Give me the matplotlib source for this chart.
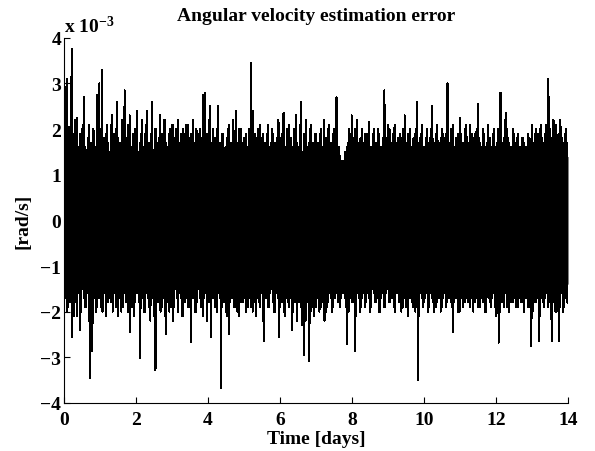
import numpy as np
import matplotlib
matplotlib.use("Agg")
import matplotlib.pyplot as plt

# Angular velocity estimation error, values in units of 1e-3 rad/s
# upper / lower excursions (spikes) of the signal (left to right)
upper = [
    1.5, 3.1, 2.05, 3.75, 1.9, 2.25, 1.6, 2.0, 2.7, 1.55,
    2.1, 1.7, 1.95, 2.75, 3.0, 3.3, 1.8, 2.1, 1.5, 2.3,
    1.9, 2.6, 1.7, 2.2, 2.85, 1.8, 2.3, 1.6, 2.0, 2.4,
    1.7, 2.2, 1.9, 2.4, 1.6, 2.6, 2.0, 1.7, 2.3, 1.9,
    2.2, 1.6, 2.0, 2.1, 1.8, 2.2, 1.7, 2.0, 1.9, 2.1,
    1.8, 2.2, 1.6, 1.9, 2.0, 2.75, 2.8, 1.7, 2.5, 2.0,
    1.8, 2.5, 1.7, 1.9, 1.6, 2.0, 1.7, 2.2, 2.4, 1.6,
    2.0, 1.7, 1.9, 1.6, 3.45, 2.4, 1.8, 2.0, 1.6, 1.9,
    1.5, 2.1, 1.7, 1.9, 1.5, 2.2, 1.8, 2.35, 1.6, 2.1,
    1.8, 2.0, 2.3, 1.6, 2.6, 1.9, 2.2, 1.7, 2.1, 1.5,
    1.9, 1.6, 2.0, 2.2, 1.8, 2.1, 1.7, 2.0, 2.7, 1.6,
    1.3, 1.2, 1.6, 2.0, 2.3, 1.8, 2.2, 1.6, 2.0, 1.7,
    1.9, 2.15, 1.6, 2.0, 1.7, 1.9, 1.6, 2.85, 1.8, 2.0,
    1.7, 2.1, 1.6, 1.9, 1.8, 2.3, 1.7, 2.0, 1.6, 1.9,
    2.6, 1.8, 2.1, 1.6, 2.0, 1.8, 2.5, 1.7, 2.1, 1.6,
    2.0, 1.8, 3.0, 1.7, 2.1, 1.6, 1.9, 2.25, 1.7, 2.0,
    1.6, 2.1, 1.8, 1.9, 2.55, 1.7, 2.0, 1.6, 2.1, 1.8,
    1.9, 1.6, 2.0, 2.8, 1.7, 2.35, 1.8, 1.6, 2.0, 1.7,
    1.9, 1.6, 1.8, 1.5, 1.9, 1.7, 1.6, 2.0, 1.9, 2.1,
    1.7, 2.1, 3.1, 1.8, 2.2, 2.1, 1.9, 2.05, 1.7, 2.0,
]
lower = [
    -1.6, -2.0, -1.8, -2.55, -1.7, -2.1, -2.4, -1.5, -1.9, -1.6,
    -3.46, -2.86, -1.7, -1.9, -1.5, -2.0, -1.6, -1.8, -1.5, -2.0,
    -1.6, -2.1, -1.7, -1.9, -1.5, -2.0, -2.45, -1.6, -1.8, -1.4,
    -3.02, -1.6, -2.0, -1.7, -2.2, -1.6, -3.28, -1.8, -2.0, -1.7,
    -2.5, -1.6, -1.9, -2.2, -1.5, -2.0, -1.7, -2.1, -1.6, -1.9,
    -2.66, -1.7, -2.0, -1.5, -1.9, -2.1, -1.6, -1.8, -2.55, -1.7,
    -1.9, -1.6, -3.68, -1.8, -2.0, -2.5, -1.7, -1.9, -1.6, -2.1,
    -1.8, -1.5, -2.0, -1.7, -1.9, -1.6, -2.1, -1.8, -1.6, -2.65,
    -1.7, -1.9, -1.5, -2.0, -1.6, -2.55, -1.8, -2.0, -1.7, -1.9,
    -2.4, -1.6, -2.2, -1.8, -2.3, -2.95, -1.7, -3.09, -1.9, -2.1,
    -1.6, -2.0, -1.8, -2.2, -1.9, -1.6, -2.0, -1.7, -1.5, -1.9,
    -1.4, -1.7, -2.7, -1.5, -1.8, -2.86, -1.6, -2.0, -1.7, -1.9,
    -1.6, -2.0, -1.5, -1.8, -1.7, -2.0, -1.6, -1.9, -1.5, -1.8,
    -1.7, -2.0, -1.6, -1.8, -1.9, -1.6, -2.1, -1.7, -1.9, -2.0,
    -3.5, -1.6, -1.9, -1.7, -2.0, -1.6, -1.8, -1.9, -1.6, -2.0,
    -1.7, -1.9, -1.6, -1.8, -2.45, -1.7, -2.0, -1.6, -1.9, -1.7,
    -1.8, -1.6, -2.0, -1.7, -1.9, -1.6, -1.8, -2.0, -1.7, -1.9,
    -1.6, -2.1, -2.68, -1.7, -1.9, -1.6, -2.0, -1.8, -1.7, -1.9,
    -1.6, -1.8, -2.0, -1.7, -1.9, -2.75, -1.6, -1.8, -2.65, -1.7,
    -1.9, -1.6, -1.8, -2.65, -1.7, -2.0, -2.65, -1.6, -1.9, -1.8,
]
# smaller excursions lying between the ones above
upper2 = [
    1.8, 1.6, 2.0, 1.7, 2.2, 1.5, 1.9, 2.1, 1.6, 1.8,
    1.7, 2.0, 1.6, 2.2, 1.8, 1.5, 1.9, 1.7, 2.1, 1.6,
    2.0, 1.8, 1.5, 1.9, 1.7, 2.1, 1.6, 1.9, 1.8, 1.5,
    1.9, 1.6, 2.1, 1.7, 1.9, 1.5, 2.0, 1.8, 1.6, 2.2,
    1.7, 1.9, 1.6, 1.8, 2.0, 1.5, 1.9, 1.7, 2.1, 1.6,
    1.9, 1.7, 2.0, 1.6, 1.8, 1.5, 1.9, 2.2, 1.7, 1.6,
    2.0, 1.7, 1.9, 1.5, 1.8, 2.1, 1.6, 1.9, 1.7, 2.0,
    1.6, 1.8, 1.5, 2.0, 1.7, 1.9, 1.6, 2.1, 1.8, 1.7,
    1.9, 1.6, 2.0, 1.7, 1.8, 1.5, 1.9, 1.6, 2.0, 1.7,
    1.6, 1.9, 1.7, 2.1, 1.5, 1.8, 1.6, 2.0, 1.7, 1.9,
    1.7, 1.9, 1.6, 1.8, 2.0, 1.5, 1.9, 1.7, 1.6, 1.4,
    1.3, 1.5, 1.7, 1.9, 1.6, 2.0, 1.7, 1.8, 1.6, 1.9,
    1.7, 1.6, 1.9, 1.7, 2.0, 1.6, 1.8, 1.7, 2.1, 1.6,
    1.9, 1.7, 1.8, 1.6, 2.0, 1.7, 1.9, 1.6, 1.8, 2.0,
    1.7, 1.9, 1.6, 1.8, 1.7, 2.0, 1.6, 1.9, 1.7, 1.8,
    1.6, 1.9, 1.7, 2.0, 1.6, 1.8, 1.7, 1.9, 1.6, 2.1,
    1.7, 1.9, 1.6, 2.0, 1.8, 1.6, 1.9, 1.7, 1.8, 1.6,
    2.0, 1.7, 1.9, 1.6, 1.8, 2.0, 1.7, 1.6, 1.9, 1.8,
    1.6, 1.8, 1.7, 1.6, 1.8, 2.1, 1.9, 1.7, 2.0, 1.8,
    1.9, 1.7, 2.0, 1.8, 1.9, 1.6, 2.2, 1.8, 1.9, 1.7,
]
lower2 = [
    -1.7, -1.9, -1.6, -2.1, -1.8, -1.6, -2.0, -1.7, -1.9, -2.2,
    -1.8, -1.6, -2.0, -1.7, -1.9, -1.6, -2.1, -1.7, -1.8, -1.6,
    -1.9, -1.7, -2.0, -1.6, -1.8, -1.7, -1.9, -2.1, -1.6, -1.8,
    -1.7, -2.0, -1.6, -1.9, -1.7, -2.1, -1.8, -1.6, -1.9, -1.7,
    -1.8, -2.0, -1.6, -1.9, -1.7, -1.6, -2.1, -1.8, -1.7, -1.9,
    -1.6, -2.0, -1.8, -1.7, -1.9, -1.6, -2.2, -1.8, -1.7, -1.9,
    -2.0, -1.7, -1.9, -1.6, -2.1, -1.8, -1.7, -1.9, -2.0, -1.6,
    -1.8, -1.7, -1.9, -1.6, -2.0, -1.8, -1.7, -1.9, -2.2, -1.7,
    -1.9, -1.6, -1.8, -2.0, -1.7, -1.9, -1.6, -2.1, -1.8, -1.7,
    -2.0, -1.8, -1.6, -1.9, -1.7, -2.2, -1.8, -2.0, -1.7, -1.9,
    -1.7, -1.9, -1.6, -2.0, -1.8, -1.7, -1.9, -1.6, -1.8, -1.7,
    -1.6, -1.9, -2.0, -1.7, -1.8, -2.1, -1.7, -1.9, -1.6, -1.8,
    -1.7, -1.9, -1.6, -1.8, -2.0, -1.7, -1.9, -1.6, -1.8, -1.7,
    -1.9, -1.6, -1.8, -2.0, -1.7, -1.9, -1.6, -1.8, -1.7, -1.9,
    -2.1, -1.7, -1.8, -1.6, -1.9, -1.7, -2.0, -1.8, -1.7, -1.9,
    -1.6, -1.8, -1.7, -1.9, -1.8, -1.6, -2.0, -1.7, -1.8, -1.6,
    -1.9, -1.7, -1.8, -1.6, -1.9, -1.7, -2.0, -1.6, -1.8, -1.7,
    -1.9, -1.7, -2.0, -1.8, -1.6, -1.9, -1.7, -1.8, -1.6, -1.9,
    -1.7, -1.8, -1.6, -1.9, -1.7, -2.0, -1.8, -1.7, -2.1, -1.8,
    -1.7, -1.9, -1.6, -1.8, -2.0, -1.7, -1.9, -2.0, -1.7, -1.8,
]
# edges of the solid (dense) core of the signal, every 0.25 day
core_top = [
    1.4, 1.5, 1.45, 1.35, 1.5, 1.4, 1.3, 1.45, 1.4, 1.3,
    1.45, 1.4, 1.35, 1.45, 1.3, 1.4, 1.45, 1.35, 1.3, 1.4,
    1.35, 1.3, 1.4, 1.3, 1.25, 1.35, 1.3, 1.35, 1.2, 1.25,
    1.0, 1.1, 1.3, 1.35, 1.25, 1.3, 1.35, 1.3, 1.4, 1.3,
    1.25, 1.35, 1.3, 1.25, 1.35, 1.3, 1.2, 1.3, 1.35, 1.25,
    1.3, 1.2, 1.35, 1.4, 1.35, 1.3, 1.4,
]
core_bottom = [
    -1.5, -1.6, -1.45, -1.55, -1.4, -1.5, -1.45, -1.35, -1.5, -1.4,
    -1.3, -1.45, -1.4, -1.5, -1.35, -1.45, -1.4, -1.5, -1.35, -1.4,
    -1.45, -1.3, -1.4, -1.35, -1.5, -1.4, -1.3, -1.35, -1.2, -1.3,
    -1.35, -1.25, -1.3, -1.2, -1.35, -1.3, -1.4, -1.35, -1.25, -1.3,
    -1.35, -1.3, -1.2, -1.35, -1.3, -1.25, -1.35, -1.3, -1.4, -1.3,
    -1.25, -1.35, -1.3, -1.35, -1.25, -1.3, -1.4,
]
x_ticks = [0, 2, 4, 6, 8, 10, 12, 14]
y_ticks = [-4, -3, -2, -1, 0, 1, 2, 3, 4]
duration_days = 14

# interleave the excursions into one signal
signal = []
for u, l, u2, l2 in zip(upper, lower, upper2, lower2):
    signal.extend([u, l, u2, l2])
signal = np.array(signal)
t = np.linspace(0, duration_days, len(signal))
t_core = np.linspace(0, duration_days, len(core_top))

plt.rcParams["font.family"] = ["Liberation Serif", "DejaVu Serif"]
plt.rcParams["font.weight"] = "bold"
plt.rcParams["mathtext.fontset"] = "custom"
plt.rcParams["mathtext.rm"] = "Liberation Serif:bold"
plt.rcParams["mathtext.default"] = "rm"

fig = plt.figure(figsize=(5.95, 4.52), dpi=100)
ax = fig.add_axes([0.1076, 0.1062, 0.8470, 0.8082])
ax.fill_between(t_core, core_bottom, core_top, color="black", linewidth=0)
ax.plot(t, signal, color="black", linewidth=0.75, antialiased=False)

ax.set_xlim(0, 14)
ax.set_ylim(-4, 4)
ax.set_xticks(x_ticks)
ax.set_yticks(y_ticks)
ax.set_xticklabels([str(v) for v in x_ticks], fontsize=14, fontweight="bold")
ax.set_yticklabels([("\u2212" + str(-v)) if v < 0 else str(v) for v in y_ticks],
                   fontsize=14, fontweight="bold")
ax.tick_params(direction="in", length=4, width=0.8)
ax.tick_params(axis="x", pad=6)
ax.tick_params(axis="y", pad=2)
for s in ("top", "right"):
    ax.spines[s].set_visible(False)
for s in ("left", "bottom"):
    ax.spines[s].set_linewidth(0.8)

ax.set_title("Angular velocity estimation error", fontsize=14,
             fontweight="bold", pad=13)
ax.set_xlabel("Time [days]", fontsize=14, fontweight="bold")
ax.xaxis.set_label_coords(0.5, -0.075)
ax.xaxis.label.set_va("top")
ax.set_ylabel("[rad/s]", fontsize=14, fontweight="bold", labelpad=6)
ax.text(0.0, 1.005, "x 10$^{\u22123}$", transform=ax.transAxes,
        fontsize=14, fontweight="bold", ha="left", va="bottom")

fig.savefig("out.png", dpi=100)
